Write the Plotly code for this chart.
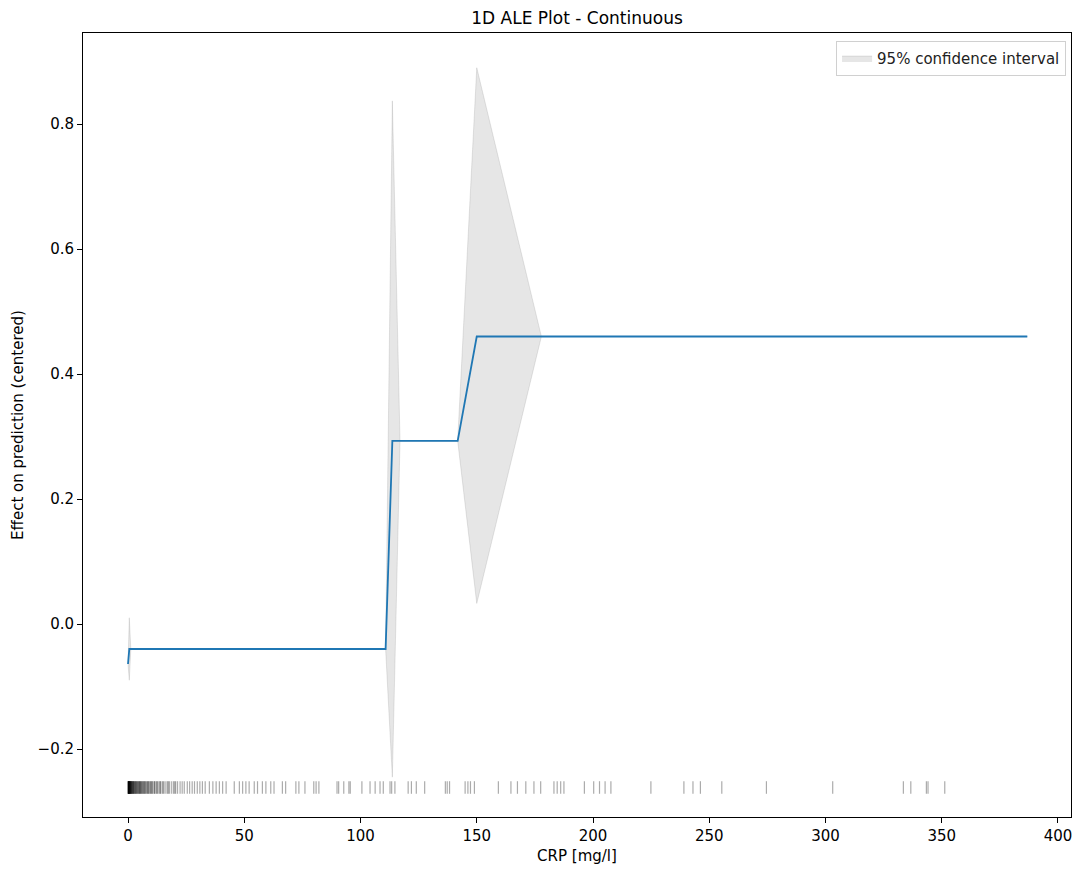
import plotly.graph_objects as go

# ALE curve at the bin edges
edges = [0, 0.56, 1.2, 110.8, 113.7, 117.0, 141.8, 150.0, 177.8, 386.8]
ale = [-0.064, -0.040, -0.040, -0.040, 0.293, 0.293, 0.293, 0.460, 0.460, 0.460]
ci_low = [-0.064, -0.090, -0.040, -0.040, -0.245, 0.293, 0.293, 0.033, 0.460, 0.460]
ci_high = [-0.064, 0.010, -0.040, -0.040, 0.837, 0.293, 0.293, 0.890, 0.460, 0.460]

# observed CRP values for the rug
rug_x = [
    0.1, 0.1, 0.1, 0.2, 0.2, 0.2, 0.3, 0.3, 0.4, 0.4, 0.5, 0.5, 0.6, 0.6, 0.7,
    0.8, 0.8, 0.9, 1.0, 1.0, 1.1, 1.2, 1.3, 1.4, 1.5, 1.6, 1.7, 1.8, 2.0, 2.1,
    2.2, 2.3, 2.5, 2.6, 2.7, 3.0, 3.1, 3.2, 3.5, 3.6, 3.8, 4.0, 4.2, 4.4, 4.6,
    4.8, 5.0, 5.1, 5.3, 5.5, 5.7, 5.9, 6.2, 6.4, 6.7, 6.9, 7.1, 7.4, 7.6, 8.0,
    8.3, 8.5, 8.8, 9.0, 9.4, 9.7, 10.0, 10.3, 10.5, 11.1, 11.4, 11.6, 12.2,
    12.5, 12.8, 13.4, 13.8, 14.0, 14.7, 15.1, 15.5, 16.3, 17.0, 17.4, 17.9,
    18.8, 19.6, 20.1, 20.5, 21.3, 22.4, 23.3, 24.2, 25.5, 26.5, 27.6, 28.6,
    29.8, 30.9, 32.0, 33.2, 35.0, 36.5, 37.9, 39.3, 40.7, 42.2, 45.7, 47.9,
    49.3, 50.7, 52.1, 54.3, 55.7, 57.8, 59.3, 61.4, 62.8, 66.4, 67.8, 72.2,
    73.5, 76.1, 79.9, 80.9, 82.1, 89.9, 90.6, 92.8, 95.0, 95.6, 100.6, 104.1,
    106.3, 108.4, 109.8, 112.7, 113.4, 114.8, 120.5, 121.9, 124.0, 127.6,
    136.5, 137.3, 138.3, 145.0, 146.2, 147.3, 149.0, 159.3, 164.7, 167.5,
    171.1, 174.6, 177.5, 183.2, 184.6, 186.1, 187.5, 196.3, 200.3, 202.8,
    205.2, 207.7, 224.9, 239.1, 243.0, 246.2, 255.4, 274.6, 303.1, 333.5,
    336.7, 343.4, 344.1, 351.3,
]
rug_level = -0.2616

fig = go.Figure()

# confidence band as one closed polygon
fig.add_trace(go.Scatter(
    x=edges + edges[::-1],
    y=ci_high + ci_low[::-1],
    fill="toself",
    fillcolor="rgba(128,128,128,0.2)",
    line=dict(color="rgba(128,128,128,0.2)", width=1),
    mode="lines",
    name="95% confidence interval",
    hoverinfo="skip",
))

fig.add_trace(go.Scatter(
    x=edges, y=ale,
    mode="lines",
    line=dict(color="#1f77b4", width=1.8),
    showlegend=False,
))

fig.add_trace(go.Scatter(
    x=rug_x, y=[rug_level] * len(rug_x),
    mode="markers",
    marker=dict(symbol="line-ns", size=9,
                line=dict(color="rgba(0,0,0,0.33)", width=1.2)),
    showlegend=False,
))

axis_style = dict(
    showline=True, linecolor="black", linewidth=1, mirror=True,
    ticks="outside", ticklen=5, tickcolor="black",
    showgrid=False, zeroline=False,
    tickfont=dict(size=15, color="black"),
)

fig.update_xaxes(
    range=[-19.36, 405.6],
    tickvals=[0, 50, 100, 150, 200, 250, 300, 350, 400],
    title=dict(text="CRP [mg/l]", font=dict(size=15, color="black"), standoff=6),
    **axis_style,
)
fig.update_yaxes(
    range=[-0.3088, 0.9456],
    tickvals=[-0.2, 0.0, 0.2, 0.4, 0.6, 0.8],
    ticktext=["\u22120.2", "0.0", "0.2", "0.4", "0.6", "0.8"],
    title=dict(text="Effect on prediction (centered)", font=dict(size=15, color="black"), standoff=10),
    **axis_style,
)

fig.update_layout(
    width=1065, height=862,
    margin=dict(l=75, r=2, t=25, b=53),
    paper_bgcolor="white", plot_bgcolor="white",
    font=dict(family="DejaVu Sans", color="black"),
    title=dict(text="1D ALE Plot - Continuous", x=0.5, xref="paper",
               y=1 - 10 / 862, yref="container", yanchor="middle",
               font=dict(size=17, color="black")),
    legend=dict(x=0.995, y=0.99, xanchor="right", yanchor="top",
                bordercolor="#d0d0d0", borderwidth=1, bgcolor="white",
                font=dict(size=15, color="#222")),
)

fig.write_html("out.html")
